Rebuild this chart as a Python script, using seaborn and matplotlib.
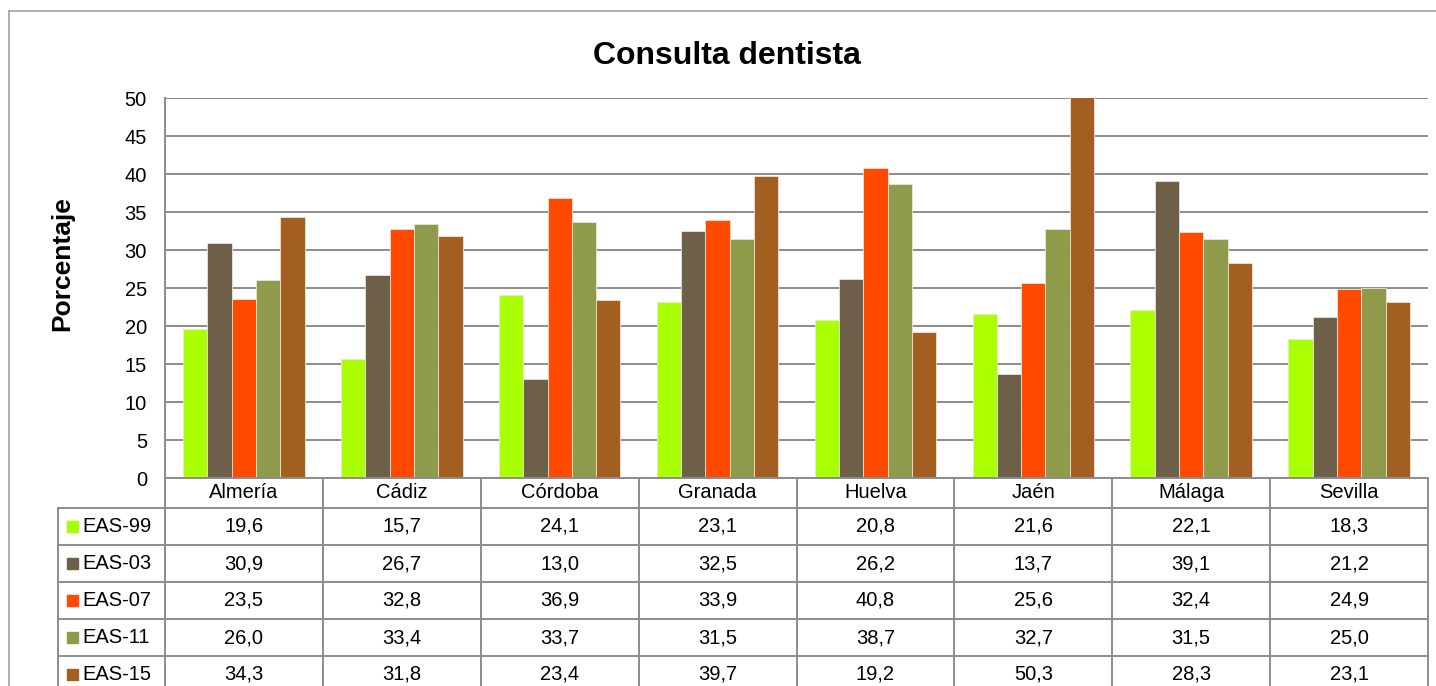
import pandas as pd
import matplotlib.pyplot as plt
import matplotlib.transforms as mtransforms
import seaborn as sns

# Datos: consulta al dentista (%), por provincia y encuesta
provincias = ["Almería", "Cádiz", "Córdoba", "Granada", "Huelva", "Jaén", "Málaga", "Sevilla"]
encuestas = ["EAS-99", "EAS-03", "EAS-07", "EAS-11", "EAS-15"]
eas99 = [19.6, 15.7, 24.1, 23.1, 20.8, 21.6, 22.1, 18.3]
eas03 = [30.9, 26.7, 13.0, 32.5, 26.2, 13.7, 39.1, 21.2]
eas07 = [23.5, 32.8, 36.9, 33.9, 40.8, 25.6, 32.4, 24.9]
eas11 = [26.0, 33.4, 33.7, 31.5, 38.7, 32.7, 31.5, 25.0]
eas15 = [34.3, 31.8, 23.4, 39.7, 19.2, 50.3, 28.3, 23.1]
colores = ["#AAFF00", "#6E5F48", "#FF4A00", "#8F9A4B", "#A25F20"]

series = [eas99, eas03, eas07, eas11, eas15]
rows = []
for enc, vals in zip(encuestas, series):
    for prov, v in zip(provincias, vals):
        rows.append({"provincia": prov, "encuesta": enc, "valor": v})
df = pd.DataFrame(rows)

sns.set_style("white")
plt.rcParams["font.family"] = ["Liberation Sans", "DejaVu Sans"]
plt.rcParams["text.color"] = "black"
plt.rcParams["axes.labelcolor"] = "black"
plt.rcParams["ytick.color"] = "black"

W, H = 1436, 686
fig = plt.figure(figsize=(W / 100, H / 100), dpi=100)
ax = fig.add_axes([165 / W, (H - 478) / H, (1428 - 165) / W, (478 - 98) / H])

sns.barplot(data=df, x="provincia", y="valor", hue="encuesta", palette=colores,
            width=0.77, ax=ax, legend=False, edgecolor="#e8e4dc", linewidth=0.6,
            saturation=1, zorder=3)

ax.set_ylim(0, 50)
ax.set_yticks(range(0, 51, 5))
ax.set_xlim(-0.5, len(provincias) - 0.5)
ax.set_xticks([])
ax.set_xlabel("")
ax.set_ylabel("Porcentaje", fontsize=19, fontweight="bold")
ax.yaxis.set_label_coords(-0.072, 0.563)
ax.tick_params(axis="y", length=0, pad=13, labelsize=14.5)
ax.grid(axis="y", color="#8c8c8c", linewidth=1.4, zorder=0)
ax.set_axisbelow(True)
for s in ["top", "right", "bottom"]:
    ax.spines[s].set_visible(False)
ax.spines["left"].set_color("#8c8c8c")
ax.spines["left"].set_linewidth(1.4)

fig.text(727 / W, 1 - 56 / H, "Consulta dentista", ha="center", va="center",
         fontsize=23, fontweight="bold")

# Tabla de datos bajo el gráfico
tab = fig.add_axes([0, 0, 1, 1])
tab.set_xlim(0, W)
tab.set_ylim(H, 0)
tab.axis("off")
tab.patch.set_visible(False)
tr = mtransforms.blended_transform_factory(ax.transData, tab.transData)

lc = "#8c8c8c"
lw = 1.4
n = len(provincias)
y_head = [478, 508]
row_h = 37
y_rows = [508 + i * row_h for i in range(len(encuestas) + 1)]

# horizontal lines
tab.plot([-0.5, n - 0.5], [478, 478], transform=tr, color=lc, lw=lw)
for y in y_rows:
    tab.plot([58, 165], [y, y], color=lc, lw=lw)
    tab.plot([-0.5, n - 0.5], [y, y], transform=tr, color=lc, lw=lw)
# vertical lines
for i in range(n + 1):
    tab.plot([i - 0.5, i - 0.5], [478, H + 20], transform=tr, color=lc, lw=lw)
tab.plot([58, 58], [508, H + 20], color=lc, lw=lw)

# header
for i, prov in enumerate(provincias):
    tab.text(i, (y_head[0] + y_head[1]) / 2, prov, transform=tr, ha="center",
             va="center", fontsize=14.5)

# rows
for r, (enc, vals, col) in enumerate(zip(encuestas, series, colores)):
    yc = y_rows[r] + row_h / 2
    tab.add_patch(plt.Rectangle((67, yc - 5.5), 11, 11, color=col))
    tab.text(82, yc, enc, ha="left", va="center", fontsize=14.5)
    for i, v in enumerate(vals):
        tab.text(i, yc, f"{v:.1f}".replace(".", ","), transform=tr, ha="center",
                 va="center", fontsize=14.5)

# outer border of the chart area
tab.plot([9, 9], [11, H + 5], color="#a0a0a0", lw=1.2)
tab.plot([9, W + 5], [11, 11], color="#a0a0a0", lw=1.2)

fig.savefig("out.png", dpi=100)
